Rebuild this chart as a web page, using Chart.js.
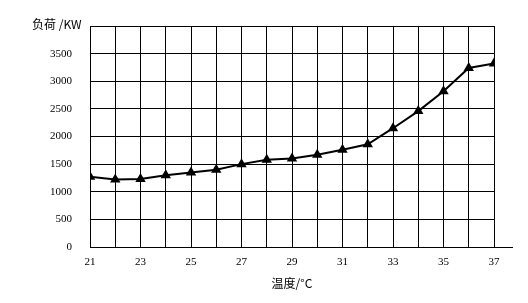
<!DOCTYPE html>
<html>
<head>
<meta charset="utf-8">
<script src="https://cdn.jsdelivr.net/npm/chart.js@4"></script>
<style>
  body { margin: 0; background: #fff; }
  #wrap { width: 528px; height: 303px; }
</style>
</head>
<body>
<div id="wrap"><canvas id="loadChart" width="528" height="303"></canvas></div>
<script>
// temperature (°C) vs load (KW)
const temps = [21, 22, 23, 24, 25, 26, 27, 28, 29, 30, 31, 32, 33, 34, 35, 36, 37];
const loads = [1270, 1220, 1230, 1300, 1350, 1400, 1500, 1580, 1600, 1670, 1760, 1860, 2150, 2460, 2820, 3240, 3320];
const xLabels = [21, 23, 25, 27, 29, 31, 33, 35, 37];
const yLabels = [0, 500, 1000, 1500, 2000, 2500, 3000, 3500];

const ctx = document.getElementById('loadChart').getContext('2d');

const tickFont = { family: 'Liberation Serif', size: 11 };

// y title in the corner and the x axis line running past the grid
const extras = {
    id: 'extras',
    afterDraw(chart) {
        const c = chart.ctx;
        const area = chart.chartArea;
        c.save();
        c.strokeStyle = '#000';
        c.lineWidth = 1;
        c.beginPath();
        c.moveTo(area.right, area.bottom + 0.5);
        c.lineTo(513, area.bottom + 0.5);
        c.stroke();
        c.fillStyle = '#000';
        c.font = '12px "Noto Sans CJK SC"';
        c.textBaseline = 'middle';
        c.fillText('负荷 /KW', 32, 24);
        c.restore();
    }
};

new Chart(ctx, {
    type: 'line',
    data: {
        datasets: [{
            data: temps.map((t, i) => ({ x: t, y: loads[i] })),
            borderColor: '#000',
            backgroundColor: '#000',
            borderWidth: 2,
            pointStyle: 'triangle',
            pointRadius: 4,
            pointBackgroundColor: '#000',
            pointBorderColor: '#000',
            tension: 0
        }]
    },
    options: {
        responsive: false,
        animation: false,
        layout: { padding: { top: 26, right: 34, left: 0, bottom: 0 } },
        plugins: {
            legend: { display: false },
            tooltip: { enabled: false }
        },
        scales: {
            x: {
                type: 'linear',
                min: 21,
                max: 37,
                grid: { color: '#000', lineWidth: 1, drawTicks: false },
                border: { color: '#000', width: 1 },
                ticks: {
                    stepSize: 1,
                    padding: 9,
                    color: '#000',
                    font: tickFont,
                    maxRotation: 0,
                    autoSkip: false,
                    callback: (v) => xLabels.includes(v) ? String(v) : ''
                },
                title: {
                    display: true,
                    text: '温度/°C',
                    color: '#000',
                    font: { family: 'Noto Sans CJK SC', size: 12 },
                    padding: { top: 0, bottom: 12 }
                },
                afterFit: (scale) => { scale.height = 56; }
            },
            y: {
                min: 0,
                max: 4000,
                grid: { color: '#000', lineWidth: 1, drawTicks: false },
                border: { color: '#000', width: 1 },
                ticks: {
                    stepSize: 500,
                    padding: 18,
                    color: '#000',
                    font: tickFont,
                    callback: (v) => yLabels.includes(v) ? String(v) : ''
                },
                afterFit: (scale) => { scale.width = 90; }
            }
        }
    },
    plugins: [extras]
});
</script>
</body>
</html>
